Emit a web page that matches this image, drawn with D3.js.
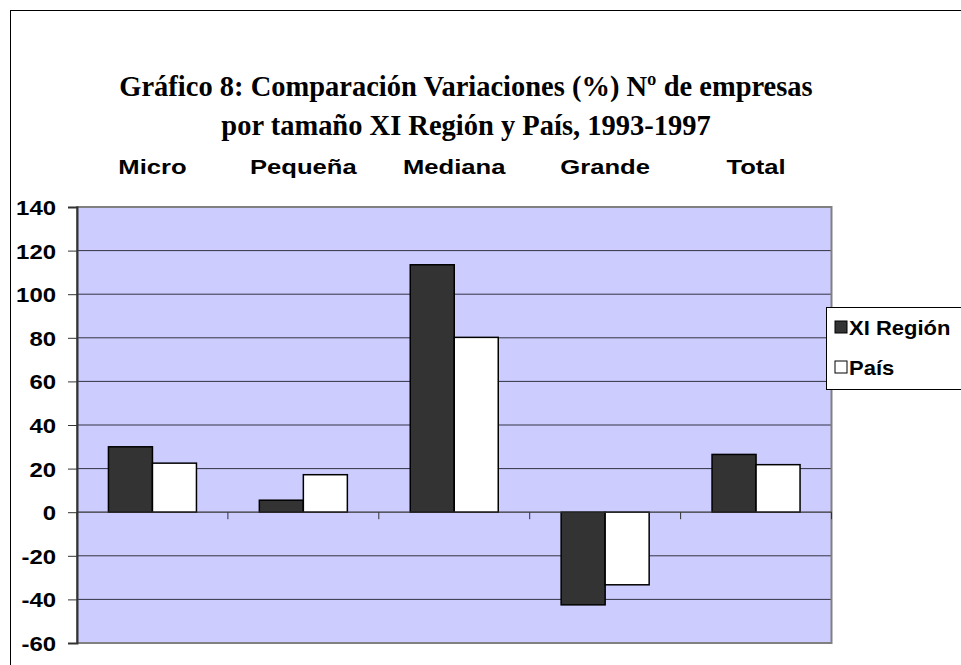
<!DOCTYPE html>
<html><head><meta charset="utf-8">
<script src="https://cdn.jsdelivr.net/npm/d3@7"></script>
<style>body{margin:0;background:#fff;overflow:hidden}svg{display:block}</style>
</head><body>
<script>
const categories = ["Micro", "Pequeña", "Mediana", "Grande", "Total"];
const seriesNames = ["XI Región", "País"];
const xiRegion = [30, 5.5, 113.5, -42.5, 26.5];
const pais = [22.5, 17.2, 80.2, -33.3, 21.8];
const yTicks = [140, 120, 100, 80, 60, 40, 20, 0, -20, -40, -60];
const titleLines = ["Gráfico 8: Comparación Variaciones (%) Nº de empresas", "por tamaño XI Región y País, 1993-1997"];

const W = 961, H = 665;
const svg = d3.select("body").append("svg").attr("width", W).attr("height", H);
const plot = {l: 77, r: 831.5, t: 207, b: 643};
const fills = ["#333333", "#FFFFFF"];
const values = [xiRegion, pais];
const data = categories.map((c, i) => ({cat: c, vals: seriesNames.map((s, j) => ({s, v: values[j][i]}))}));

// outer frame
svg.append("rect").attr("x", 10.5).attr("y", 10.5).attr("width", 1000).attr("height", 700)
  .attr("fill", "#fff").attr("stroke", "#000").attr("stroke-width", 1);

const x = d3.scaleBand().domain(categories).range([plot.l, plot.r]).paddingInner(0.4168).paddingOuter(0.2084);
const xs = d3.scaleBand().domain(seriesNames).range([0, x.bandwidth()]);
const y = d3.scaleLinear().domain([-60, 140]).range([plot.b, plot.t]);

function stretchText(sel, sx) {
  sel.each(function() {
    const t = d3.select(this);
    const ax = +t.attr("data-x"), ay = +t.attr("data-y");
    t.attr("transform", `translate(${ax},${ay}) scale(${sx},1)`);
  });
}

// title
svg.selectAll("text.title").data(titleLines).join("text").attr("class", "title")
  .attr("data-x", 466).attr("data-y", (d, i) => 96 + i * 39)
  .attr("text-anchor", "middle")
  .attr("font-family", "'Liberation Serif','Times New Roman',serif")
  .attr("font-weight", "bold").attr("font-size", 30).attr("fill", "#000")
  .text(d => d).call(stretchText, 0.95);

// plot background
svg.append("rect").attr("x", plot.l).attr("y", plot.t).attr("width", plot.r - plot.l).attr("height", plot.b - plot.t)
  .attr("fill", "#CCCCFF");

// gridlines
svg.append("g").selectAll("line").data(yTicks.filter(v => v !== 0 && v !== -60 && v !== 140)).join("line")
  .attr("x1", plot.l).attr("x2", plot.r).attr("y1", d => y(d)).attr("y2", d => y(d))
  .attr("stroke", "#333344").attr("stroke-width", 1);

// plot border (grey)
svg.append("rect").attr("x", plot.l).attr("y", plot.t).attr("width", plot.r - plot.l).attr("height", plot.b - plot.t)
  .attr("fill", "none").attr("stroke", "#808080").attr("stroke-width", 2);

// y axis
const yAxis = d3.axisLeft(y).tickValues(yTicks).tickSize(9).tickPadding(12).tickFormat(d => String(d));
const gy = svg.append("g").attr("transform", `translate(${plot.l},0)`).call(yAxis);
gy.select(".domain").attr("stroke", "#333").attr("stroke-width", 2);
gy.selectAll(".tick line").attr("stroke", "#333").attr("stroke-width", 1);
gy.selectAll(".tick text").attr("font-family", "'Liberation Sans',Arial,sans-serif")
  .attr("font-weight", "bold").attr("font-size", 21).attr("fill", "#000").attr("dy", "0.36em");
gy.selectAll(".tick text").each(function() {
  const t = d3.select(this);
  const xx = +t.attr("x");
  t.attr("x", 0).attr("transform", `translate(${xx},0) scale(1.14,1)`);
});

// bars
const groups = svg.append("g").selectAll("g").data(data).join("g")
  .attr("transform", d => `translate(${x(d.cat)},0)`);
groups.selectAll("rect").data(d => d.vals).join("rect")
  .attr("x", d => xs(d.s)).attr("width", xs.bandwidth())
  .attr("y", d => y(Math.max(0, d.v))).attr("height", d => Math.abs(y(d.v) - y(0)))
  .attr("fill", (d, i) => fills[i]).attr("stroke", "#000").attr("stroke-width", 1.5);

// zero axis with category boundary ticks
svg.append("line").attr("x1", plot.l).attr("x2", plot.r).attr("y1", y(0)).attr("y2", y(0))
  .attr("stroke", "#333").attr("stroke-width", 1.2);
const bounds = categories.map(c => x(c) - x.step() * x.paddingInner() / 2).concat([plot.r]);
svg.append("g").selectAll("line").data(bounds).join("line")
  .attr("x1", d => d).attr("x2", d => d).attr("y1", y(0)).attr("y2", y(0) + 7)
  .attr("stroke", "#333").attr("stroke-width", 1);

// category labels at top
svg.append("g").selectAll("text").data(categories).join("text")
  .attr("data-x", d => x(d) + x.bandwidth() / 2).attr("data-y", 174)
  .attr("text-anchor", "middle")
  .attr("font-family", "'Liberation Sans',Arial,sans-serif")
  .attr("font-weight", "bold").attr("font-size", 21).attr("fill", "#000")
  .text(d => d).call(stretchText, 1.22);

// legend
const lg = svg.append("g");
lg.append("rect").attr("x", 826.5).attr("y", 307.5).attr("width", 200).attr("height", 82)
  .attr("fill", "#fff").attr("stroke", "#000").attr("stroke-width", 1);
const li = lg.selectAll("g.item").data(seriesNames).join("g").attr("class", "item")
  .attr("transform", (d, i) => `translate(835,${321 + i * 40})`);
li.append("rect").attr("x", 0).attr("y", 0).attr("width", 12).attr("height", 12)
  .attr("fill", (d, i) => fills[i]).attr("stroke", "#000").attr("stroke-width", 1);
li.append("text").attr("data-x", 14).attr("data-y", 14)
  .attr("font-family", "'Liberation Sans',Arial,sans-serif")
  .attr("font-weight", "bold").attr("font-size", 20).attr("fill", "#000")
  .text(d => d).call(stretchText, 1.1);
</script>
</body></html>
